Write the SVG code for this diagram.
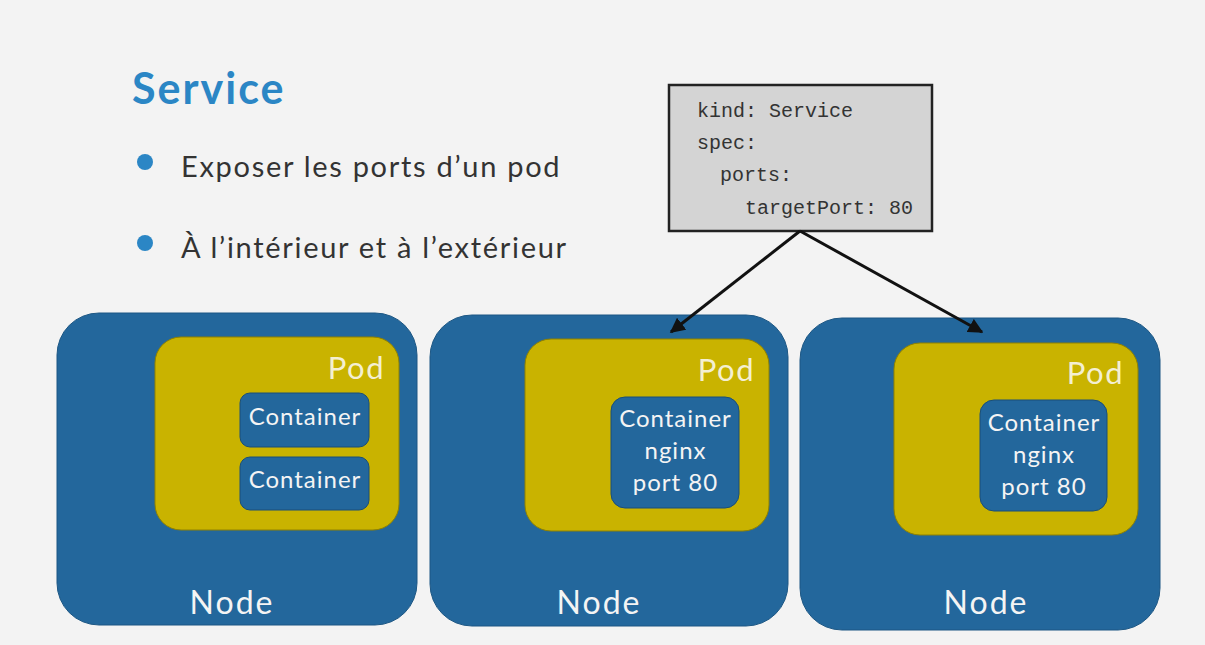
<svg xmlns="http://www.w3.org/2000/svg" width="1205" height="645" viewBox="0 0 1205 645">
<defs>
<marker id="ah" viewBox="0 0 10 10" refX="9" refY="5" markerWidth="5" markerHeight="5" orient="auto" markerUnits="strokeWidth">
<path d="M0,0 L10,5 L0,10 z" fill="#111"/>
</marker>
<style>
.node{fill:#23679c;stroke:#1d5784;stroke-width:1}
.pod{fill:#c9b300;stroke:#8f8100;stroke-width:1}
.ctr{fill:#23679c;stroke:#1a4f78;stroke-width:1}
.nt{font-family:Lato,"Noto Sans",sans-serif;font-size:32px;letter-spacing:2px;fill:#f4f4f4;text-anchor:middle}
.pt{font-family:Lato,"Noto Sans",sans-serif;font-size:31px;letter-spacing:1.5px;fill:#f4efd2;text-anchor:end}
.ct{font-family:Lato,"Noto Sans",sans-serif;font-size:24px;letter-spacing:1px;fill:#f4f4f4;text-anchor:middle}
.code{font-family:"Liberation Mono",monospace;font-size:20px;fill:#333}
.bt{font-family:Lato,"Noto Sans",sans-serif;font-size:29px;letter-spacing:1.7px;fill:#333}
.conn{stroke:#111;stroke-width:3;fill:none}
</style>
</defs>
<rect width="1205" height="645" fill="#f3f3f3"/>
<text x="132" y="104" font-family="Lato,'Noto Sans',sans-serif" font-weight="bold" font-size="43" letter-spacing="2" fill="#2b86c5">Service</text>
<circle cx="145" cy="162" r="8" fill="#2b86c5"/>
<text class="bt" x="181" y="177">Exposer les ports d’un pod</text>
<circle cx="145" cy="243" r="8" fill="#2b86c5"/>
<text class="bt" x="181" y="258">À l’intérieur et à l’extérieur</text>

<g id="service">
<rect x="669" y="85" width="263" height="146" fill="#d4d4d4" stroke="#222" stroke-width="2.5"/>
<text class="code" x="697" y="117">kind: Service</text>
<text class="code" x="697" y="149">spec:</text>
<text class="code" x="720" y="181">ports:</text>
<text class="code" x="745" y="214">targetPort: 80</text>
</g>

<g id="node1">
<rect class="node" x="57" y="313" width="360" height="312" rx="42"/>
<text class="nt" x="232" y="614">Node</text>
<g id="pod1">
<rect class="pod" x="155" y="337" width="244" height="193" rx="26"/>
<text class="pt" x="385" y="379">Pod</text>
<g id="c1a"><rect class="ctr" x="240" y="393" width="129" height="54" rx="10"/><text class="ct" x="305" y="425">Container</text></g>
<g id="c1b"><rect class="ctr" x="240" y="457" width="129" height="53" rx="10"/><text class="ct" x="305" y="488">Container</text></g>
</g>
</g>

<g id="node2">
<rect class="node" x="430" y="315" width="358" height="311" rx="42"/>
<text class="nt" x="599" y="614">Node</text>
<g id="pod2">
<rect class="pod" x="525" y="339" width="244" height="192" rx="26"/>
<text class="pt" x="755" y="381">Pod</text>
<g id="c2"><rect class="ctr" x="611" y="397" width="128" height="111" rx="14"/>
<text class="ct" x="675.5" y="427">Container</text><text class="ct" x="675.5" y="459">nginx</text><text class="ct" x="675.5" y="491">port 80</text></g>
</g>
</g>

<g id="node3">
<rect class="node" x="800" y="318" width="360" height="312" rx="42"/>
<text class="nt" x="986" y="614">Node</text>
<g id="pod3">
<rect class="pod" x="894" y="343" width="244" height="192" rx="26"/>
<text class="pt" x="1124" y="384">Pod</text>
<g id="c3"><rect class="ctr" x="980" y="400" width="127" height="111" rx="14"/>
<text class="ct" x="1044" y="431">Container</text><text class="ct" x="1044" y="463">nginx</text><text class="ct" x="1044" y="495">port 80</text></g>
</g>
</g>

<g id="connectors">
<line class="conn" x1="800" y1="231" x2="671" y2="332" marker-end="url(#ah)"/>
<line class="conn" x1="800" y1="231" x2="982" y2="332" marker-end="url(#ah)"/>
</g>
</svg>
